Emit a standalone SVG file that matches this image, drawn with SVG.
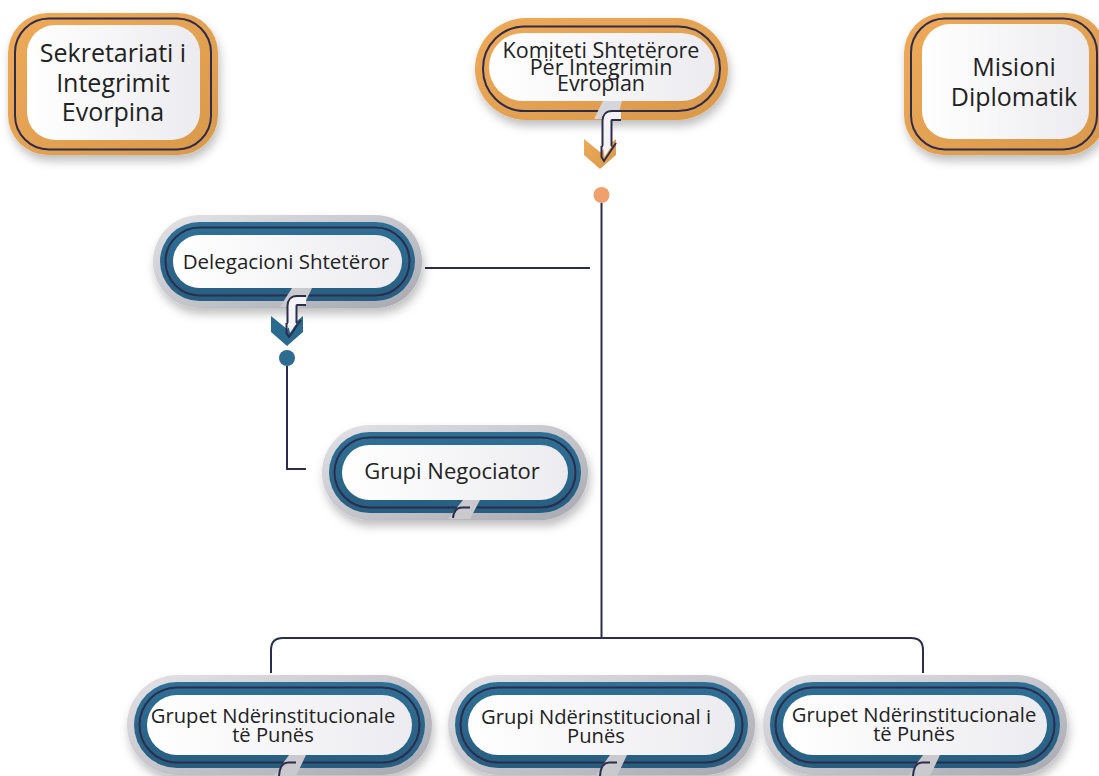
<svg xmlns="http://www.w3.org/2000/svg" width="1099" height="776" viewBox="0 0 1099 776">
<defs>
<linearGradient id="gGray" x1="0" y1="0" x2="1" y2="1"><stop offset="0" stop-color="#e3e3e7"/><stop offset="1" stop-color="#a8a8b1"/></linearGradient>
<linearGradient id="gBlue" x1="0" y1="0" x2="0" y2="1"><stop offset="0" stop-color="#2f7096"/><stop offset="1" stop-color="#275e80"/></linearGradient>
<linearGradient id="gOrange" x1="0" y1="0" x2="1" y2="1"><stop offset="0" stop-color="#eeaa59"/><stop offset="1" stop-color="#d9994b"/></linearGradient>
<linearGradient id="gWhite" x1="0" y1="0" x2="1" y2="0"><stop offset="0" stop-color="#ffffff"/><stop offset="1" stop-color="#ececf0"/></linearGradient>
<filter id="sh" x="-20%" y="-30%" width="140%" height="170%"><feDropShadow dx="2" dy="6" stdDeviation="5" flood-color="#000" flood-opacity="0.25"/></filter>
<style>
.gray{fill:url(#gGray);filter:url(#sh)}
.blue{fill:url(#gBlue)}
.org{fill:url(#gOrange)}
.orgsh{fill:url(#gOrange);filter:url(#sh)}
.navy{fill:none;stroke:#2d2c4c;stroke-width:2}
.white{fill:url(#gWhite)}
.gap{fill:#c9c9ce}
.gapo{fill:#d6d6da}
.t{font-family:"Open Sans","Noto Sans","Liberation Sans",sans-serif;fill:#222;text-anchor:middle}
.conn{fill:none;stroke:#2d2c4c;stroke-width:2}
.tubeo{fill:none;stroke:#2d2c4c;stroke-width:11}
.tubei{fill:none;stroke:#f4f4f6;stroke-width:7}
</style>
</defs>

<g id="connectors">
<path class="conn" d="M601.5,203 V638"/>
<path class="conn" d="M271,673 V650 Q271,638 283,638 H911 Q923,638 923,650 V673"/>
<path class="conn" d="M425,268 H590"/>
<path class="conn" d="M287,366 V469 H306"/>
</g>

<g id="node-sekretariati">
<rect class="orgsh" x="8" y="13" width="210" height="142" rx="40"/>
<rect class="navy" x="15" y="18.5" width="196" height="131" rx="34"/>
<rect class="white" x="27" y="25" width="173" height="115" rx="28"/>
<text class="t" font-size="25"><tspan x="113" y="62">Sekretariati i</tspan><tspan x="113" y="92">Integrimit</tspan><tspan x="113" y="121">Evorpina</tspan></text>
</g>

<g id="node-misioni">
<rect class="orgsh" x="904" y="13" width="202" height="142" rx="40"/>
<rect class="navy" x="911" y="18.5" width="186" height="131" rx="34"/>
<rect class="white" x="922" y="24" width="167" height="115" rx="28"/>
<text class="t" font-size="25"><tspan x="1014" y="76">Misioni</tspan><tspan x="1014" y="106">Diplomatik</tspan></text>
</g>

<g id="node-komiteti">
<rect class="orgsh" x="475" y="18" width="253" height="102" rx="51"/>
<rect class="navy" x="483" y="26.5" width="237" height="84.5" rx="42"/>
<rect class="white" x="489" y="33" width="226" height="68" rx="34"/>
<polygon class="gapo" points="594,119 617,119 622,101 603,101"/>
<polygon class="org" points="584,139 600,152 616,139 616,155 600,169 584,155"/>
<path class="tubeo" d="M621,115.5 H612 Q607,115.5 607,121 V147"/>
<path class="tubei" d="M621,115.5 H612 Q607,115.5 607,121 V148"/>
<polygon fill="#f4f4f6" points="603,146 611.5,146 604.5,157"/>
<path class="navy" d="M601.5,146 V157 L604,161 L616,143"/>
<text class="t" font-size="21.5"><tspan x="601" y="57.5">Komiteti Shtetërore</tspan><tspan x="601" y="74.5">Për Integrimin</tspan><tspan x="601" y="91">Evropian</tspan></text>
<circle cx="601.5" cy="195" r="8" fill="#f0a06c"/>
</g>

<g id="node-delegacioni">
<rect class="gray" x="153" y="215" width="269" height="93" rx="46.5"/>
<rect class="blue" x="160" y="222" width="255" height="79" rx="39.5"/>
<rect class="navy" x="165.5" y="227.5" width="244" height="68" rx="34"/>
<rect class="white" x="173" y="235" width="229" height="53" rx="26.5"/>
<polygon class="gap" points="280,307 303,307 312,288 292,288"/>
<polygon fill="#2b6a8f" points="271,316 287,329 303,316 303,332 287,346 271,332"/>
<path class="tubeo" d="M306,300.5 H297 Q292,300.5 292,306 V324"/>
<path class="tubei" d="M306,300.5 H297 Q292,300.5 292,306 V325"/>
<polygon fill="#f4f4f6" points="288,323 296.5,323 290,333"/>
<path class="navy" d="M286.5,323 V333 L289,337 L301,320"/>
<text class="t" font-size="20.5" x="286" y="269">Delegacioni Shtetëror</text>
<circle cx="287" cy="358" r="8" fill="#2d6b90"/>
</g>

<g id="node-negociator">
<rect class="gray" x="322" y="425" width="266" height="95" rx="47.5"/>
<rect class="blue" x="329" y="432" width="252" height="81" rx="40.5"/>
<rect class="navy" x="334.5" y="437.5" width="241" height="70" rx="35"/>
<rect class="white" x="342" y="445" width="226" height="55" rx="27.5"/>
<polygon class="gap" points="448,519 470,519 480,500 463,500"/>
<path class="navy" d="M453,518 Q454,507.5 462,507.5 H470"/>
<text class="t" font-size="22" x="452" y="479">Grupi Negociator</text>
</g>

<g id="node-grupet-1">
<rect class="gray" x="127" y="675" width="305" height="100" rx="50"/>
<rect class="blue" x="134" y="682" width="291" height="86" rx="43"/>
<rect class="navy" x="139.5" y="687.5" width="280" height="75" rx="37.5"/>
<rect class="white" x="147" y="695" width="265" height="60" rx="30"/>
<polygon class="gap" points="274,776 296,776 306,755 289,755"/>
<path class="navy" d="M279,776 Q280,762.5 288,762.5 H296"/>
<text class="t" font-size="20.2"><tspan x="273" y="723">Grupet Ndërinstitucionale</tspan><tspan x="273" y="742">të Punës</tspan></text>
</g>

<g id="node-grupi-2">
<rect class="gray" x="448" y="675" width="307" height="100" rx="50"/>
<rect class="blue" x="455" y="682" width="293" height="86" rx="43"/>
<rect class="navy" x="460.5" y="687.5" width="282" height="75" rx="37.5"/>
<rect class="white" x="468" y="695" width="267" height="60" rx="30"/>
<polygon class="gap" points="595,776 617,776 627,755 610,755"/>
<path class="navy" d="M600,776 Q601,762.5 609,762.5 H617"/>
<text class="t" font-size="20.2"><tspan x="596" y="724">Grupi Ndërinstitucional i</tspan><tspan x="596" y="743">Punës</tspan></text>
</g>

<g id="node-grupet-3">
<rect class="gray" x="763" y="675" width="304" height="100" rx="50"/>
<rect class="blue" x="770" y="682" width="290" height="86" rx="43"/>
<rect class="navy" x="775.5" y="687.5" width="279" height="75" rx="37.5"/>
<rect class="white" x="783" y="695" width="264" height="60" rx="30"/>
<polygon class="gap" points="908,776 930,776 940,755 923,755"/>
<path class="navy" d="M913,776 Q914,762.5 922,762.5 H930"/>
<text class="t" font-size="20.2"><tspan x="914" y="722">Grupet Ndërinstitucionale</tspan><tspan x="914" y="741">të Punës</tspan></text>
</g>
</svg>
